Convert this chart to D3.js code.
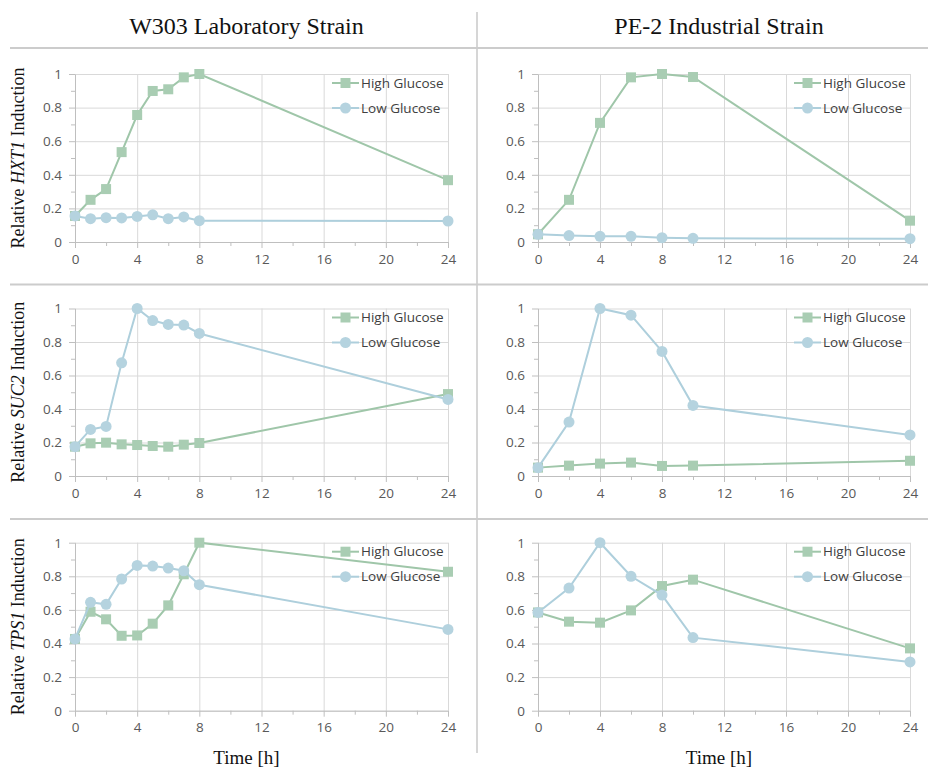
<!DOCTYPE html>
<html>
<head>
<meta charset="utf-8">
<script src="https://cdn.jsdelivr.net/npm/d3@7"></script>
<style>
  body { margin: 0; background: #fff; }
  svg { display: block; }
</style>
</head>
<body>
<div id="container"></div>
<script>
// strains (columns) and genes (rows)
let strainTitles = ["W303 Laboratory Strain", "PE-2 Industrial Strain"];
let geneNames = ["HXT1", "SUC2", "TPS1"];
let seriesNames = ["High Glucose", "Low Glucose"];

let timesW303 = [0, 1, 2, 3, 4, 5, 6, 7, 8, 24];
let timesPE2 = [0, 2, 4, 6, 8, 10, 24];

let xTicks = [0, 4, 8, 12, 16, 20, 24];
let yTicks = [0, 0.2, 0.4, 0.6, 0.8, 1];

// W303 values
let hxt1W303High = [0.155, 0.251, 0.315, 0.535, 0.756, 0.899, 0.909, 0.980, 1.0, 0.368];
let hxt1W303Low  = [0.155, 0.139, 0.145, 0.143, 0.152, 0.162, 0.139, 0.149, 0.127, 0.125];
let suc2W303High = [0.175, 0.195, 0.199, 0.189, 0.185, 0.179, 0.175, 0.187, 0.197, 0.489];
let suc2W303Low  = [0.175, 0.278, 0.296, 0.676, 1.0, 0.928, 0.905, 0.901, 0.851, 0.457];
let tps1W303High = [0.427, 0.589, 0.544, 0.446, 0.448, 0.518, 0.627, 0.812, 1.0, 0.827];
let tps1W303Low  = [0.427, 0.645, 0.633, 0.784, 0.865, 0.861, 0.849, 0.833, 0.750, 0.484];

// PE-2 values
let hxt1PE2High = [0.046, 0.251, 0.709, 0.980, 1.0, 0.982, 0.127];
let hxt1PE2Low  = [0.046, 0.038, 0.034, 0.034, 0.026, 0.022, 0.020];
let suc2PE2High = [0.050, 0.062, 0.074, 0.080, 0.060, 0.062, 0.091];
let suc2PE2Low  = [0.050, 0.322, 1.0, 0.960, 0.744, 0.421, 0.245];
let tps1PE2High = [0.585, 0.530, 0.524, 0.597, 0.742, 0.780, 0.371];
let tps1PE2Low  = [0.585, 0.730, 1.0, 0.800, 0.688, 0.435, 0.290];

let w = 928;
let h = 768;

let colLeft = [75, 538];
let colRight = [448, 910];
let rowTop = [74, 308.5, 542.7];
let rowBottom = [242, 476, 710.7];

let highColor = "#9fc6a9";
let highMarker = "#a9cdb3";
let lowColor = "#aecfdc";
let lowMarker = "#b5d3df";

let viz = d3.select("#container")
  .append("svg")
    .attr("width", w)
    .attr("height", h)
;

let panels = [
  {col: 0, row: 0, times: timesW303, high: hxt1W303High, low: hxt1W303Low},
  {col: 1, row: 0, times: timesPE2, high: hxt1PE2High, low: hxt1PE2Low},
  {col: 0, row: 1, times: timesW303, high: suc2W303High, low: suc2W303Low},
  {col: 1, row: 1, times: timesPE2, high: suc2PE2High, low: suc2PE2Low},
  {col: 0, row: 2, times: timesW303, high: tps1W303High, low: tps1W303Low},
  {col: 1, row: 2, times: timesPE2, high: tps1PE2High, low: tps1PE2Low}
];

// separators
viz.append("line")
    .attr("x1", 477).attr("x2", 477)
    .attr("y1", 12).attr("y2", 753)
    .attr("stroke", "#c8c8c8").attr("stroke-width", 1.5);
[48, 284.5, 519].forEach(function(y){
  viz.append("line")
      .attr("x1", 10).attr("x2", w)
      .attr("y1", y).attr("y2", y)
      .attr("stroke", "#cccccc").attr("stroke-width", 2);
});

// strain titles
strainTitles.forEach(function(t, i){
  viz.append("text")
      .attr("x", (colLeft[i] + colRight[i]) / 2 - 15 + i*10)
      .attr("y", 34)
      .attr("text-anchor", "middle")
      .style("font-family", "'Liberation Serif', 'Times New Roman', serif")
      .style("font-size", "24px")
      .attr("fill", "#111")
      .text(t);
});

// y labels with italic gene name
geneNames.forEach(function(g, r){
  let cy = (rowTop[r] + rowBottom[r]) / 2;
  let t = viz.append("text")
      .attr("transform", "translate(24," + cy + ") rotate(-90)")
      .attr("text-anchor", "middle")
      .style("font-family", "'Liberation Serif', 'Times New Roman', serif")
      .style("font-size", "18px")
      .attr("fill", "#111");
  t.append("tspan").text("Relative ");
  t.append("tspan").style("font-style", "italic").text(g);
  t.append("tspan").text(" Induction");
});

// x titles
[0, 1].forEach(function(i){
  viz.append("text")
      .attr("x", (colLeft[i] + colRight[i]) / 2 - 15 + i*10)
      .attr("y", 764)
      .attr("text-anchor", "middle")
      .style("font-family", "'Liberation Serif', 'Times New Roman', serif")
      .style("font-size", "19px")
      .attr("fill", "#111")
      .text("Time [h]");
});

panels.forEach(drawPanel);

function drawPanel(p){
  let xScale = d3.scaleLinear().domain([0, 24]).range([colLeft[p.col], colRight[p.col]]);
  let yScale = d3.scaleLinear().domain([0, 1]).range([rowBottom[p.row], rowTop[p.row]]);
  let g = viz.append("g");

  // gridlines
  let xGrid = g.append("g")
      .attr("transform", "translate(0," + rowBottom[p.row] + ")")
      .call(d3.axisBottom(xScale).tickValues(xTicks).tickSize(-(rowBottom[p.row] - rowTop[p.row])).tickFormat(""));
  let yGrid = g.append("g")
      .attr("transform", "translate(" + colLeft[p.col] + ",0)")
      .call(d3.axisLeft(yScale).tickValues(yTicks).tickSize(-(colRight[p.col] - colLeft[p.col])).tickFormat(""));
  [xGrid, yGrid].forEach(function(ag){
    ag.select(".domain").remove();
    ag.selectAll("line").attr("stroke", "#d9d9d9").attr("stroke-width", 1);
  });

  // minor ticks
  let xMinor = g.append("g")
      .attr("transform", "translate(0," + rowBottom[p.row] + ")")
      .call(d3.axisBottom(xScale).tickValues([2, 6, 10, 14, 18, 22]).tickSize(4).tickFormat(""));
  let yMinor = g.append("g")
      .attr("transform", "translate(" + colLeft[p.col] + ",0)")
      .call(d3.axisLeft(yScale).tickValues([0.1, 0.3, 0.5, 0.7, 0.9]).tickSize(4).tickFormat(""));
  [xMinor, yMinor].forEach(function(ag){
    ag.select(".domain").remove();
    ag.selectAll("line").attr("stroke", "#bfbfbf");
  });

  // axes
  let xAxisGroup = g.append("g")
      .attr("transform", "translate(0," + rowBottom[p.row] + ")")
      .call(d3.axisBottom(xScale).tickValues(xTicks).tickSize(6).tickSizeOuter(0).tickPadding(6));
  let yAxisGroup = g.append("g")
      .attr("transform", "translate(" + colLeft[p.col] + ",0)")
      .call(d3.axisLeft(yScale).tickValues(yTicks).tickSize(6).tickSizeOuter(0).tickPadding(7).tickFormat(d3.format("~g")));
  [xAxisGroup, yAxisGroup].forEach(function(ag){
    ag.select(".domain").attr("stroke", "#bfbfbf");
    ag.selectAll("line").attr("stroke", "#bfbfbf");
    ag.selectAll("text")
        .style("font-family", "'Open Sans', sans-serif")
        .style("font-size", "13.5px")
        .attr("fill", "#595959");
  });

  let lineMaker = d3.line()
      .x(function(d){ return xScale(d[0]); })
      .y(function(d){ return yScale(d[1]); });

  let highData = p.times.map(function(t, i){ return [t, p.high[i]]; });
  let lowData = p.times.map(function(t, i){ return [t, p.low[i]]; });

  g.append("path").datum(highData)
      .attr("d", lineMaker).attr("fill", "none")
      .attr("stroke", highColor).attr("stroke-width", 2);
  g.selectAll(".sq").data(highData).enter().append("rect")
      .attr("x", function(d){ return xScale(d[0]) - 5; })
      .attr("y", function(d){ return yScale(d[1]) - 5; })
      .attr("width", 10).attr("height", 10)
      .attr("fill", highMarker);

  g.append("path").datum(lowData)
      .attr("d", lineMaker).attr("fill", "none")
      .attr("stroke", lowColor).attr("stroke-width", 2);
  g.selectAll(".ci").data(lowData).enter().append("circle")
      .attr("cx", function(d){ return xScale(d[0]); })
      .attr("cy", function(d){ return yScale(d[1]); })
      .attr("r", 5.5)
      .attr("fill", lowMarker);

  // legend
  let right = colRight[p.col];
  let top = rowTop[p.row];
  seriesNames.forEach(function(name, i){
    let ly = top + 9 + i * 25;
    let c = i == 0 ? highColor : lowColor;
    g.append("line")
        .attr("x1", right - 116).attr("x2", right - 89)
        .attr("y1", ly).attr("y2", ly)
        .attr("stroke", c).attr("stroke-width", 2);
    if (i == 0) {
      g.append("rect")
          .attr("x", right - 107.5).attr("y", ly - 5)
          .attr("width", 10).attr("height", 10)
          .attr("fill", highMarker);
    } else {
      g.append("circle")
          .attr("cx", right - 102.5).attr("cy", ly)
          .attr("r", 5.5)
          .attr("fill", lowMarker);
    }
    g.append("text")
        .attr("x", right - 87)
        .attr("y", ly)
        .attr("dy", "0.35em")
        .style("font-family", "'Open Sans', sans-serif")
        .style("font-size", "13.5px")
        .attr("fill", "#404040")
        .text(name);
  });
}
</script>
</body>
</html>
